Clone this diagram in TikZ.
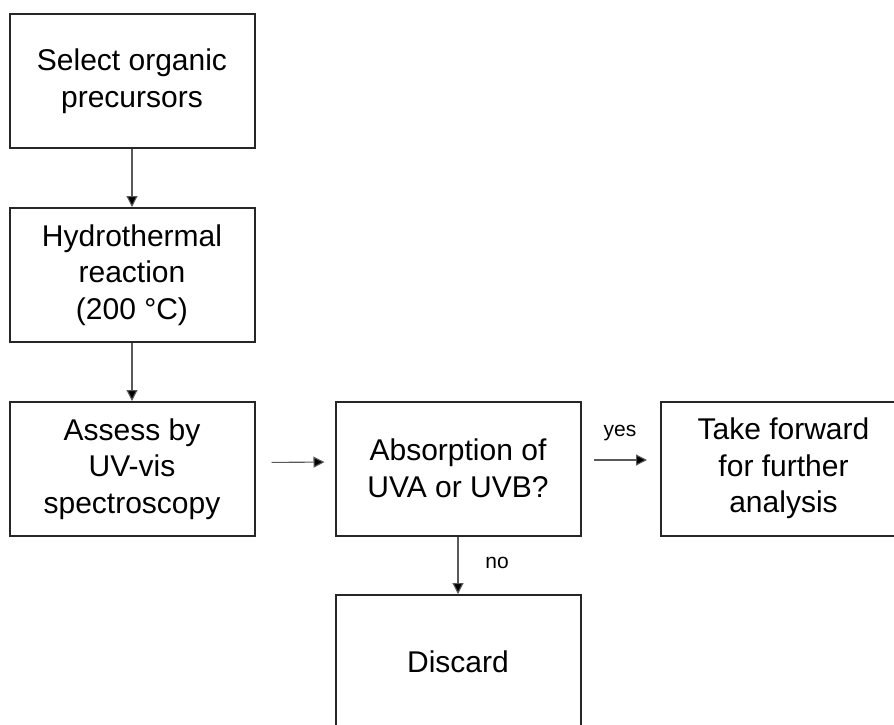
\documentclass[tikz,border=0pt]{standalone}
\usepackage{fontspec}
\setmainfont{Liberation Sans}
\usetikzlibrary{arrows.meta}
\begin{document}
\begin{tikzpicture}[x=1pt,y=1pt,
  box/.style={draw=black!85, line width=2pt, minimum width=245pt, minimum height=134pt,
    inner sep=0pt, align=center, font=\fontsize{30}{36.5}\selectfont},
  arr/.style={draw=black!65, line width=1.1pt, -{Triangle[length=11pt,width=11pt,fill=black]}},
  lbl/.style={font=\fontsize{21}{25}\selectfont, inner sep=0pt}]
\useasboundingbox (0,0) rectangle (894,-724);
\node[box] (b1) at (132,-81) {Select organic\\precursors};
\node[box] (b2) at (132,-275) {Hydrothermal\\reaction\\(200 °C)};
\node[box] (b3) at (132,-469) {Assess by\\UV-vis\\spectroscopy};
\node[box] (b4) at (458,-468.5) {Absorption of\\UVA or UVB?};
\node[box] (b5) at (783.5,-468.5) {Take forward\\for further\\analysis};
\node[box] (b6) at (458,-662) {Discard};
\draw[arr] (b1) -- (b2);
\draw[arr] (b2) -- (b3);
\draw[arr, shorten <=16pt, shorten >=10pt] ([yshift=6.5pt]b3.east) -- ([yshift=6.5pt]b4.west);
\draw[arr, shorten <=12pt, shorten >=13pt] ([yshift=8.5pt]b4.east) -- ([yshift=8.5pt]b5.west);
\draw[arr] (b4) -- (b6);
\node[lbl] (yes) at (620,-433) {yes};
\node[lbl] (no) at (497,-563) {no};
\end{tikzpicture}
\end{document}
